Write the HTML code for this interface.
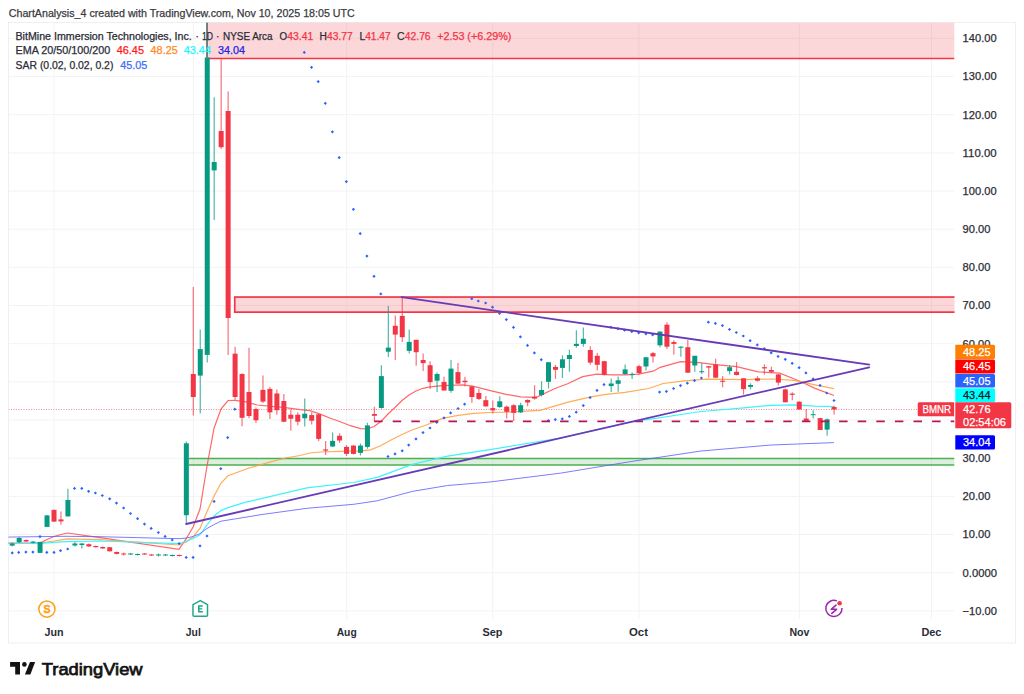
<!DOCTYPE html>
<html><head><meta charset="utf-8"><style>
html,body{margin:0;padding:0;background:#fff;width:1024px;height:694px;overflow:hidden}
svg{position:absolute;left:0;top:0;font-family:"Liberation Sans",sans-serif}
.ax{font-size:11px;fill:#2a2d36;stroke:#2a2d36;stroke-width:0.25px}
.lg{font-size:10px;fill:#2a2d36;stroke:#2a2d36;stroke-width:0.25px}
.hd{font-size:10.7px;fill:#3a3b40;stroke:#3a3b40;stroke-width:0.25px}
.tm{font-size:10.5px;font-weight:bold;fill:#2a2d36}
</style></head><body>
<svg width="1024" height="694" viewBox="0 0 1024 694">
<rect x="8.5" y="22.5" width="1007" height="620.5" fill="#fff" stroke="#efefef" stroke-width="1"/>
<defs><clipPath id="pane"><rect x="8.5" y="22.5" width="946" height="596.5"/></clipPath></defs>
<g clip-path="url(#pane)">
<line x1="8.5" y1="610.86" x2="954.5" y2="610.86" stroke="#f3f3f3" stroke-width="1"/>
<line x1="8.5" y1="572.70" x2="954.5" y2="572.70" stroke="#f3f3f3" stroke-width="1"/>
<line x1="8.5" y1="534.54" x2="954.5" y2="534.54" stroke="#f3f3f3" stroke-width="1"/>
<line x1="8.5" y1="496.37" x2="954.5" y2="496.37" stroke="#f3f3f3" stroke-width="1"/>
<line x1="8.5" y1="458.21" x2="954.5" y2="458.21" stroke="#f3f3f3" stroke-width="1"/>
<line x1="8.5" y1="420.04" x2="954.5" y2="420.04" stroke="#f3f3f3" stroke-width="1"/>
<line x1="8.5" y1="381.88" x2="954.5" y2="381.88" stroke="#f3f3f3" stroke-width="1"/>
<line x1="8.5" y1="343.72" x2="954.5" y2="343.72" stroke="#f3f3f3" stroke-width="1"/>
<line x1="8.5" y1="305.55" x2="954.5" y2="305.55" stroke="#f3f3f3" stroke-width="1"/>
<line x1="8.5" y1="267.39" x2="954.5" y2="267.39" stroke="#f3f3f3" stroke-width="1"/>
<line x1="8.5" y1="229.22" x2="954.5" y2="229.22" stroke="#f3f3f3" stroke-width="1"/>
<line x1="8.5" y1="191.06" x2="954.5" y2="191.06" stroke="#f3f3f3" stroke-width="1"/>
<line x1="8.5" y1="152.90" x2="954.5" y2="152.90" stroke="#f3f3f3" stroke-width="1"/>
<line x1="8.5" y1="114.73" x2="954.5" y2="114.73" stroke="#f3f3f3" stroke-width="1"/>
<line x1="8.5" y1="76.57" x2="954.5" y2="76.57" stroke="#f3f3f3" stroke-width="1"/>
<line x1="8.5" y1="38.40" x2="954.5" y2="38.40" stroke="#f3f3f3" stroke-width="1"/>
<line x1="54.0" y1="22.5" x2="54.0" y2="619" stroke="#f3f3f3" stroke-width="1"/>
<line x1="193.3" y1="22.5" x2="193.3" y2="619" stroke="#f3f3f3" stroke-width="1"/>
<line x1="346.7" y1="22.5" x2="346.7" y2="619" stroke="#f3f3f3" stroke-width="1"/>
<line x1="492.7" y1="22.5" x2="492.7" y2="619" stroke="#f3f3f3" stroke-width="1"/>
<line x1="638.9" y1="22.5" x2="638.9" y2="619" stroke="#f3f3f3" stroke-width="1"/>
<line x1="799.4" y1="22.5" x2="799.4" y2="619" stroke="#f3f3f3" stroke-width="1"/>
<line x1="931.5" y1="22.5" x2="931.5" y2="619" stroke="#f3f3f3" stroke-width="1"/>
<rect x="208" y="22.5" width="746.5" height="36.1" fill="rgba(242,54,69,0.2)"/>
<line x1="208" y1="58.6" x2="954.5" y2="58.6" stroke="#F23645" stroke-width="1.5"/>
<rect x="234.75" y="297.05" width="730" height="15.1" fill="rgba(242,54,69,0.2)" stroke="#F23645" stroke-width="1.7"/>
<rect x="188.8" y="458.6" width="766" height="6.3" fill="rgba(76,175,80,0.2)"/>
<line x1="188.8" y1="458.6" x2="954.5" y2="458.6" stroke="#4CAF50" stroke-width="1.5"/>
<line x1="188.8" y1="464.9" x2="954.5" y2="464.9" stroke="#4CAF50" stroke-width="1.5"/>
<line x1="8.5" y1="409.5" x2="954.5" y2="409.5" stroke="#F23645" stroke-opacity="0.6" stroke-width="1" stroke-dasharray="1,1.5"/>
<polyline points="8.0,543.1 40.1,543.1 47.0,539.5 54.0,536.5 61.0,534.5 67.7,533.0 100.0,537.7 179.0,549.4 186.2,538.7 193.1,527.0 200.0,509.0 207.0,466.0 214.1,428.0 221.0,409.0 228.0,400.5 235.0,400.3 245.0,401.6 257.0,405.0 285.3,407.6 300.0,409.6 310.0,410.6 320.2,414.1 330.3,418.2 340.3,421.7 350.4,425.7 360.5,428.7 367.0,428.8 374.0,426.5 381.0,421.5 388.0,414.0 395.0,407.5 402.0,400.5 409.0,395.0 416.0,391.0 423.0,388.3 430.0,386.8 442.5,385.6 462.8,384.8 473.8,386.4 489.4,390.3 505.0,394.2 520.6,396.9 536.3,397.3 553.8,389.0 568.2,383.5 582.6,376.6 597.0,374.1 611.5,374.8 625.0,374.8 638.7,374.1 653.1,371.2 660.3,367.3 680.5,361.6 699.3,362.6 715.0,364.6 736.6,366.7 758.2,371.8 779.8,373.2 794.3,379.0 804.3,383.3 815.0,388.4 834.0,395.5" fill="none" stroke="#ff4d4d" stroke-opacity="0.85" stroke-width="1.2"/>
<polyline points="8.0,543.5 40.0,543.3 47.0,542.0 54.0,541.0 61.0,539.8 67.7,538.9 100.0,539.7 179.0,545.0 186.2,542.0 193.1,536.8 200.0,528.4 207.0,511.5 214.1,496.0 221.0,483.0 228.0,475.8 249.1,468.0 269.9,462.2 285.3,458.0 300.0,455.5 310.0,453.0 320.2,452.0 340.3,451.4 360.5,450.9 370.6,449.9 380.0,446.0 391.0,440.0 402.0,434.5 411.3,430.2 426.9,424.7 442.5,418.4 458.1,415.3 473.8,413.4 489.4,412.5 505.0,412.2 520.6,411.4 540.0,410.3 568.2,402.2 589.8,397.2 604.2,394.7 625.0,392.4 648.8,388.5 663.2,383.5 684.8,380.9 706.5,379.2 743.8,379.7 772.6,379.0 794.3,380.4 815.0,384.8 834.0,388.6" fill="none" stroke="#ffa345" stroke-opacity="0.9" stroke-width="1.2"/>
<polyline points="8.0,543.5 40.0,543.3 65.0,541.7 100.0,541.0 179.0,543.7 186.2,541.3 193.1,538.5 200.0,534.9 207.0,525.0 214.1,516.0 221.0,510.6 228.0,507.6 245.0,502.4 260.0,498.9 306.9,487.9 353.7,482.5 377.2,477.3 412.3,464.4 447.5,456.2 490.0,449.6 560.3,438.0 630.6,422.2 701.0,411.5 743.8,407.8 771.3,405.3 794.3,404.9 815.0,406.1 834.0,406.6" fill="none" stroke="#3df3ff" stroke-width="1.2"/>
<polyline points="8.0,537.1 65.0,536.3 100.0,536.7 179.0,538.7 186.2,538.1 193.1,536.5 200.0,533.6 207.0,528.5 214.1,524.5 221.0,521.2 245.0,517.3 260.0,514.8 306.9,508.3 353.7,504.3 377.2,500.8 412.3,491.4 447.5,485.5 490.0,482.0 560.3,473.2 630.6,461.6 701.0,451.0 771.3,445.0 834.0,442.6" fill="none" stroke="#5b5bff" stroke-opacity="0.8" stroke-width="1"/>
<line x1="12.21" y1="542.5" x2="12.21" y2="546.5" stroke="#089981" stroke-opacity="0.7" stroke-width="1.2"/>
<rect x="9.71" y="543.5" width="5" height="2.10" fill="#089981"/>
<line x1="19.17" y1="537" x2="19.17" y2="543" stroke="#089981" stroke-opacity="0.7" stroke-width="1.2"/>
<rect x="16.67" y="538" width="5" height="4.30" fill="#089981"/>
<line x1="26.14" y1="539.5" x2="26.14" y2="542" stroke="#F23645" stroke-opacity="0.7" stroke-width="1.2"/>
<rect x="23.64" y="540" width="5" height="1.50" fill="#F23645"/>
<line x1="33.11" y1="541" x2="33.11" y2="543.5" stroke="#089981" stroke-opacity="0.7" stroke-width="1.2"/>
<rect x="30.61" y="541.6" width="5" height="1.20" fill="#089981"/>
<line x1="40.07" y1="541.5" x2="40.07" y2="553" stroke="#089981" stroke-opacity="0.7" stroke-width="1.2"/>
<rect x="37.57" y="542" width="5" height="10.90" fill="#089981"/>
<line x1="47.03" y1="515" x2="47.03" y2="527" stroke="#089981" stroke-opacity="0.7" stroke-width="1.2"/>
<rect x="44.53" y="515.4" width="5" height="11.50" fill="#089981"/>
<line x1="54.00" y1="509.5" x2="54.00" y2="522" stroke="#F23645" stroke-opacity="0.7" stroke-width="1.2"/>
<rect x="51.50" y="509.9" width="5" height="11.70" fill="#F23645"/>
<line x1="60.97" y1="511.5" x2="60.97" y2="524.8" stroke="#F23645" stroke-opacity="0.7" stroke-width="1.2"/>
<rect x="58.47" y="519.4" width="5" height="2.00" fill="#F23645"/>
<line x1="67.93" y1="488.7" x2="67.93" y2="516.4" stroke="#089981" stroke-opacity="0.7" stroke-width="1.2"/>
<rect x="65.43" y="500" width="5" height="16.40" fill="#089981"/>
<line x1="74.89" y1="542" x2="74.89" y2="546.5" stroke="#089981" stroke-opacity="0.7" stroke-width="1.2"/>
<rect x="72.39" y="543.5" width="5" height="2.00" fill="#089981"/>
<line x1="81.86" y1="543" x2="81.86" y2="548.5" stroke="#089981" stroke-opacity="0.7" stroke-width="1.2"/>
<rect x="79.36" y="543.5" width="5" height="1.50" fill="#089981"/>
<line x1="88.83" y1="543.5" x2="88.83" y2="547" stroke="#F23645" stroke-opacity="0.7" stroke-width="1.2"/>
<rect x="86.33" y="544.2" width="5" height="2.20" fill="#F23645"/>
<line x1="95.79" y1="545.5" x2="95.79" y2="547.5" stroke="#F23645" stroke-opacity="0.7" stroke-width="1.2"/>
<rect x="93.29" y="546" width="5" height="1.20" fill="#F23645"/>
<line x1="102.75" y1="546.5" x2="102.75" y2="549" stroke="#F23645" stroke-opacity="0.7" stroke-width="1.2"/>
<rect x="100.25" y="547" width="5" height="1.40" fill="#F23645"/>
<line x1="109.72" y1="547" x2="109.72" y2="551.5" stroke="#F23645" stroke-opacity="0.7" stroke-width="1.2"/>
<rect x="107.22" y="547.2" width="5" height="4.10" fill="#F23645"/>
<line x1="116.69" y1="551.5" x2="116.69" y2="554.5" stroke="#F23645" stroke-opacity="0.7" stroke-width="1.2"/>
<rect x="114.19" y="552" width="5" height="1.90" fill="#F23645"/>
<line x1="123.65" y1="552.5" x2="123.65" y2="555.5" stroke="#F23645" stroke-opacity="0.7" stroke-width="1.2"/>
<rect x="121.15" y="553.5" width="5" height="1.00" fill="#F23645"/>
<line x1="130.62" y1="553" x2="130.62" y2="555" stroke="#089981" stroke-opacity="0.7" stroke-width="1.2"/>
<rect x="128.12" y="553.5" width="5" height="1.00" fill="#089981"/>
<line x1="137.58" y1="553.5" x2="137.58" y2="555.5" stroke="#089981" stroke-opacity="0.7" stroke-width="1.2"/>
<rect x="135.08" y="554" width="5" height="1.00" fill="#089981"/>
<line x1="144.55" y1="553" x2="144.55" y2="555" stroke="#F23645" stroke-opacity="0.7" stroke-width="1.2"/>
<rect x="142.05" y="553.5" width="5" height="1.00" fill="#F23645"/>
<line x1="151.51" y1="554" x2="151.51" y2="556" stroke="#F23645" stroke-opacity="0.7" stroke-width="1.2"/>
<rect x="149.01" y="554.5" width="5" height="1.00" fill="#F23645"/>
<line x1="158.47" y1="553.5" x2="158.47" y2="556.5" stroke="#089981" stroke-opacity="0.7" stroke-width="1.2"/>
<rect x="155.97" y="554.5" width="5" height="1.00" fill="#089981"/>
<line x1="165.44" y1="554" x2="165.44" y2="556" stroke="#089981" stroke-opacity="0.7" stroke-width="1.2"/>
<rect x="162.94" y="554.5" width="5" height="1.00" fill="#089981"/>
<line x1="172.41" y1="554.5" x2="172.41" y2="556.5" stroke="#089981" stroke-opacity="0.7" stroke-width="1.2"/>
<rect x="169.91" y="555" width="5" height="1.00" fill="#089981"/>
<line x1="179.37" y1="554.5" x2="179.37" y2="556.5" stroke="#F23645" stroke-opacity="0.7" stroke-width="1.2"/>
<rect x="176.87" y="555" width="5" height="1.00" fill="#F23645"/>
<line x1="186.34" y1="441.5" x2="186.34" y2="524.4" stroke="#089981" stroke-opacity="0.7" stroke-width="1.2"/>
<rect x="183.84" y="443.3" width="5" height="71.90" fill="#089981"/>
<line x1="193.30" y1="286.9" x2="193.30" y2="415.5" stroke="#F23645" stroke-opacity="0.7" stroke-width="1.2"/>
<rect x="190.80" y="374" width="5" height="23.00" fill="#F23645"/>
<line x1="200.26" y1="329.5" x2="200.26" y2="413.6" stroke="#089981" stroke-opacity="0.7" stroke-width="1.2"/>
<rect x="197.76" y="349.1" width="5" height="26.50" fill="#089981"/>
<line x1="207.23" y1="22.5" x2="207.23" y2="362.5" stroke="#089981" stroke-opacity="0.7" stroke-width="1.2"/>
<rect x="204.73" y="57.5" width="5" height="297.40" fill="#089981"/>
<line x1="214.19" y1="97.2" x2="214.19" y2="219.9" stroke="#089981" stroke-opacity="0.7" stroke-width="1.2"/>
<rect x="211.69" y="162" width="5" height="8.40" fill="#089981"/>
<line x1="221.16" y1="59.2" x2="221.16" y2="149" stroke="#F23645" stroke-opacity="0.7" stroke-width="1.2"/>
<rect x="218.66" y="131" width="5" height="16.20" fill="#F23645"/>
<line x1="228.12" y1="91.4" x2="228.12" y2="354.9" stroke="#F23645" stroke-opacity="0.7" stroke-width="1.2"/>
<rect x="225.62" y="111" width="5" height="207.00" fill="#F23645"/>
<line x1="235.09" y1="346.8" x2="235.09" y2="399.8" stroke="#F23645" stroke-opacity="0.7" stroke-width="1.2"/>
<rect x="232.59" y="353.7" width="5" height="43.30" fill="#F23645"/>
<line x1="242.06" y1="373.3" x2="242.06" y2="426.3" stroke="#F23645" stroke-opacity="0.7" stroke-width="1.2"/>
<rect x="239.56" y="374" width="5" height="43.80" fill="#F23645"/>
<line x1="249.02" y1="347.7" x2="249.02" y2="418.3" stroke="#F23645" stroke-opacity="0.7" stroke-width="1.2"/>
<rect x="246.52" y="392" width="5" height="24.00" fill="#F23645"/>
<line x1="255.98" y1="407.6" x2="255.98" y2="423.1" stroke="#F23645" stroke-opacity="0.7" stroke-width="1.2"/>
<rect x="253.48" y="409" width="5" height="11.30" fill="#F23645"/>
<line x1="262.95" y1="375.4" x2="262.95" y2="403" stroke="#F23645" stroke-opacity="0.7" stroke-width="1.2"/>
<rect x="260.45" y="389.9" width="5" height="11.70" fill="#F23645"/>
<line x1="269.91" y1="387" x2="269.91" y2="419.1" stroke="#F23645" stroke-opacity="0.7" stroke-width="1.2"/>
<rect x="267.41" y="388.9" width="5" height="23.40" fill="#F23645"/>
<line x1="276.88" y1="389.5" x2="276.88" y2="414.7" stroke="#F23645" stroke-opacity="0.7" stroke-width="1.2"/>
<rect x="274.38" y="393.5" width="5" height="16.70" fill="#F23645"/>
<line x1="283.85" y1="394.1" x2="283.85" y2="422.3" stroke="#F23645" stroke-opacity="0.7" stroke-width="1.2"/>
<rect x="281.35" y="401" width="5" height="20.70" fill="#F23645"/>
<line x1="290.81" y1="409.6" x2="290.81" y2="430.8" stroke="#F23645" stroke-opacity="0.7" stroke-width="1.2"/>
<rect x="288.31" y="414.7" width="5" height="4.00" fill="#F23645"/>
<line x1="297.77" y1="412.3" x2="297.77" y2="425.2" stroke="#F23645" stroke-opacity="0.7" stroke-width="1.2"/>
<rect x="295.27" y="414.7" width="5" height="7.00" fill="#F23645"/>
<line x1="304.74" y1="398.5" x2="304.74" y2="426.4" stroke="#089981" stroke-opacity="0.7" stroke-width="1.2"/>
<rect x="302.24" y="413.7" width="5" height="4.60" fill="#089981"/>
<line x1="311.70" y1="412.3" x2="311.70" y2="424.4" stroke="#F23645" stroke-opacity="0.7" stroke-width="1.2"/>
<rect x="309.20" y="415.1" width="5" height="5.60" fill="#F23645"/>
<line x1="318.67" y1="414" x2="318.67" y2="440.9" stroke="#F23645" stroke-opacity="0.7" stroke-width="1.2"/>
<rect x="316.17" y="414.3" width="5" height="24.60" fill="#F23645"/>
<line x1="325.63" y1="440.9" x2="325.63" y2="455" stroke="#F23645" stroke-opacity="0.7" stroke-width="1.2"/>
<rect x="323.13" y="449.4" width="5" height="1.20" fill="#F23645"/>
<line x1="332.60" y1="432.4" x2="332.60" y2="446.9" stroke="#089981" stroke-opacity="0.7" stroke-width="1.2"/>
<rect x="330.10" y="440.9" width="5" height="5.60" fill="#089981"/>
<line x1="339.56" y1="433.2" x2="339.56" y2="442.9" stroke="#F23645" stroke-opacity="0.7" stroke-width="1.2"/>
<rect x="337.06" y="435.8" width="5" height="4.70" fill="#F23645"/>
<line x1="346.53" y1="445" x2="346.53" y2="456" stroke="#F23645" stroke-opacity="0.7" stroke-width="1.2"/>
<rect x="344.03" y="446.9" width="5" height="7.00" fill="#F23645"/>
<line x1="353.50" y1="445" x2="353.50" y2="454.5" stroke="#F23645" stroke-opacity="0.7" stroke-width="1.2"/>
<rect x="351.00" y="445.6" width="5" height="8.30" fill="#F23645"/>
<line x1="360.46" y1="443.5" x2="360.46" y2="455.5" stroke="#089981" stroke-opacity="0.7" stroke-width="1.2"/>
<rect x="357.96" y="445.6" width="5" height="7.30" fill="#089981"/>
<line x1="367.43" y1="422.8" x2="367.43" y2="448.7" stroke="#089981" stroke-opacity="0.7" stroke-width="1.2"/>
<rect x="364.93" y="425.4" width="5" height="21.50" fill="#089981"/>
<line x1="374.39" y1="406.7" x2="374.39" y2="421" stroke="#F23645" stroke-opacity="0.7" stroke-width="1.2"/>
<rect x="371.89" y="414" width="5" height="1.80" fill="#F23645"/>
<line x1="381.36" y1="365.2" x2="381.36" y2="408.8" stroke="#089981" stroke-opacity="0.7" stroke-width="1.2"/>
<rect x="378.86" y="376.1" width="5" height="31.90" fill="#089981"/>
<line x1="388.32" y1="306.1" x2="388.32" y2="356.9" stroke="#089981" stroke-opacity="0.7" stroke-width="1.2"/>
<rect x="385.82" y="347.6" width="5" height="4.10" fill="#089981"/>
<line x1="395.28" y1="315.4" x2="395.28" y2="360" stroke="#F23645" stroke-opacity="0.7" stroke-width="1.2"/>
<rect x="392.78" y="325.8" width="5" height="8.80" fill="#F23645"/>
<line x1="402.25" y1="297.3" x2="402.25" y2="341.9" stroke="#F23645" stroke-opacity="0.7" stroke-width="1.2"/>
<rect x="399.75" y="315.9" width="5" height="21.30" fill="#F23645"/>
<line x1="409.21" y1="329.4" x2="409.21" y2="353.5" stroke="#089981" stroke-opacity="0.7" stroke-width="1.2"/>
<rect x="406.71" y="341.9" width="5" height="9.00" fill="#089981"/>
<line x1="416.18" y1="339.8" x2="416.18" y2="365.7" stroke="#F23645" stroke-opacity="0.7" stroke-width="1.2"/>
<rect x="413.68" y="339.8" width="5" height="12.40" fill="#F23645"/>
<line x1="423.14" y1="353.5" x2="423.14" y2="370.9" stroke="#F23645" stroke-opacity="0.7" stroke-width="1.2"/>
<rect x="420.64" y="360" width="5" height="3.10" fill="#F23645"/>
<line x1="430.11" y1="361.3" x2="430.11" y2="389" stroke="#F23645" stroke-opacity="0.7" stroke-width="1.2"/>
<rect x="427.61" y="365.2" width="5" height="16.90" fill="#F23645"/>
<line x1="437.07" y1="372.5" x2="437.07" y2="392" stroke="#089981" stroke-opacity="0.7" stroke-width="1.2"/>
<rect x="434.57" y="374" width="5" height="6.70" fill="#089981"/>
<line x1="444.04" y1="376.8" x2="444.04" y2="390.5" stroke="#F23645" stroke-opacity="0.7" stroke-width="1.2"/>
<rect x="441.54" y="381.9" width="5" height="8.60" fill="#F23645"/>
<line x1="451.00" y1="360" x2="451.00" y2="392.7" stroke="#089981" stroke-opacity="0.7" stroke-width="1.2"/>
<rect x="448.50" y="368.6" width="5" height="22.20" fill="#089981"/>
<line x1="457.97" y1="363.1" x2="457.97" y2="384" stroke="#F23645" stroke-opacity="0.7" stroke-width="1.2"/>
<rect x="455.47" y="372.1" width="5" height="11.50" fill="#F23645"/>
<line x1="464.94" y1="376.8" x2="464.94" y2="386.5" stroke="#F23645" stroke-opacity="0.7" stroke-width="1.2"/>
<rect x="462.44" y="380.7" width="5" height="1.50" fill="#F23645"/>
<line x1="471.90" y1="385.5" x2="471.90" y2="402.8" stroke="#F23645" stroke-opacity="0.7" stroke-width="1.2"/>
<rect x="469.40" y="386.5" width="5" height="10.50" fill="#F23645"/>
<line x1="478.87" y1="389" x2="478.87" y2="399.9" stroke="#F23645" stroke-opacity="0.7" stroke-width="1.2"/>
<rect x="476.37" y="393" width="5" height="5.90" fill="#F23645"/>
<line x1="485.83" y1="396" x2="485.83" y2="406.4" stroke="#F23645" stroke-opacity="0.7" stroke-width="1.2"/>
<rect x="483.33" y="400.2" width="5" height="6.20" fill="#F23645"/>
<line x1="492.80" y1="400.6" x2="492.80" y2="413.6" stroke="#F23645" stroke-opacity="0.7" stroke-width="1.2"/>
<rect x="490.30" y="408.1" width="5" height="2.30" fill="#F23645"/>
<line x1="499.76" y1="396.3" x2="499.76" y2="407.8" stroke="#089981" stroke-opacity="0.7" stroke-width="1.2"/>
<rect x="497.26" y="401.3" width="5" height="5.80" fill="#089981"/>
<line x1="506.72" y1="405.6" x2="506.72" y2="418.6" stroke="#F23645" stroke-opacity="0.7" stroke-width="1.2"/>
<rect x="504.22" y="406.7" width="5" height="5.10" fill="#F23645"/>
<line x1="513.69" y1="404.2" x2="513.69" y2="421.1" stroke="#F23645" stroke-opacity="0.7" stroke-width="1.2"/>
<rect x="511.19" y="405.2" width="5" height="7.70" fill="#F23645"/>
<line x1="520.65" y1="402.8" x2="520.65" y2="412.9" stroke="#089981" stroke-opacity="0.7" stroke-width="1.2"/>
<rect x="518.15" y="405.2" width="5" height="7.20" fill="#089981"/>
<line x1="527.62" y1="399.2" x2="527.62" y2="406.3" stroke="#F23645" stroke-opacity="0.7" stroke-width="1.2"/>
<rect x="525.12" y="400" width="5" height="2.50" fill="#F23645"/>
<line x1="534.59" y1="385.2" x2="534.59" y2="399.6" stroke="#F23645" stroke-opacity="0.7" stroke-width="1.2"/>
<rect x="532.09" y="396.7" width="5" height="1.90" fill="#F23645"/>
<line x1="541.55" y1="381.3" x2="541.55" y2="396.5" stroke="#089981" stroke-opacity="0.7" stroke-width="1.2"/>
<rect x="539.05" y="390" width="5" height="5.00" fill="#089981"/>
<line x1="548.51" y1="362.2" x2="548.51" y2="388.5" stroke="#089981" stroke-opacity="0.7" stroke-width="1.2"/>
<rect x="546.01" y="362.2" width="5" height="19.60" fill="#089981"/>
<line x1="555.48" y1="364.8" x2="555.48" y2="378.9" stroke="#F23645" stroke-opacity="0.7" stroke-width="1.2"/>
<rect x="552.98" y="366.9" width="5" height="2.90" fill="#F23645"/>
<line x1="562.44" y1="355.4" x2="562.44" y2="378" stroke="#089981" stroke-opacity="0.7" stroke-width="1.2"/>
<rect x="559.94" y="359.3" width="5" height="8.60" fill="#089981"/>
<line x1="569.41" y1="349.6" x2="569.41" y2="371.7" stroke="#089981" stroke-opacity="0.7" stroke-width="1.2"/>
<rect x="566.91" y="355" width="5" height="4.00" fill="#089981"/>
<line x1="576.38" y1="330.2" x2="576.38" y2="347.8" stroke="#089981" stroke-opacity="0.7" stroke-width="1.2"/>
<rect x="573.88" y="343.9" width="5" height="2.10" fill="#089981"/>
<line x1="583.34" y1="327.6" x2="583.34" y2="346.7" stroke="#089981" stroke-opacity="0.7" stroke-width="1.2"/>
<rect x="580.84" y="338.8" width="5" height="5.10" fill="#089981"/>
<line x1="590.30" y1="346.3" x2="590.30" y2="364.8" stroke="#F23645" stroke-opacity="0.7" stroke-width="1.2"/>
<rect x="587.80" y="350" width="5" height="12.60" fill="#F23645"/>
<line x1="597.27" y1="352.9" x2="597.27" y2="370.5" stroke="#F23645" stroke-opacity="0.7" stroke-width="1.2"/>
<rect x="594.77" y="355.8" width="5" height="9.00" fill="#F23645"/>
<line x1="604.24" y1="360.7" x2="604.24" y2="375.6" stroke="#F23645" stroke-opacity="0.7" stroke-width="1.2"/>
<rect x="601.74" y="361.2" width="5" height="13.60" fill="#F23645"/>
<line x1="611.20" y1="378.4" x2="611.20" y2="392.1" stroke="#089981" stroke-opacity="0.7" stroke-width="1.2"/>
<rect x="608.70" y="383.5" width="5" height="2.60" fill="#089981"/>
<line x1="618.16" y1="376.6" x2="618.16" y2="391.8" stroke="#089981" stroke-opacity="0.7" stroke-width="1.2"/>
<rect x="615.66" y="380.3" width="5" height="3.50" fill="#089981"/>
<line x1="625.13" y1="364.5" x2="625.13" y2="374.8" stroke="#089981" stroke-opacity="0.7" stroke-width="1.2"/>
<rect x="622.63" y="369.4" width="5" height="4.70" fill="#089981"/>
<line x1="632.10" y1="372.2" x2="632.10" y2="378.9" stroke="#089981" stroke-opacity="0.7" stroke-width="1.2"/>
<rect x="629.60" y="374.1" width="5" height="1.00" fill="#089981"/>
<line x1="639.06" y1="364.8" x2="639.06" y2="374.6" stroke="#F23645" stroke-opacity="0.7" stroke-width="1.2"/>
<rect x="636.56" y="366.2" width="5" height="6.90" fill="#F23645"/>
<line x1="646.02" y1="356.8" x2="646.02" y2="370.5" stroke="#089981" stroke-opacity="0.7" stroke-width="1.2"/>
<rect x="643.52" y="357.3" width="5" height="9.20" fill="#089981"/>
<line x1="652.99" y1="352.1" x2="652.99" y2="362.6" stroke="#F23645" stroke-opacity="0.7" stroke-width="1.2"/>
<rect x="650.49" y="353.2" width="5" height="3.20" fill="#F23645"/>
<line x1="659.96" y1="331.3" x2="659.96" y2="347.2" stroke="#089981" stroke-opacity="0.7" stroke-width="1.2"/>
<rect x="657.46" y="331.6" width="5" height="13.70" fill="#089981"/>
<line x1="666.92" y1="322.2" x2="666.92" y2="348.9" stroke="#F23645" stroke-opacity="0.7" stroke-width="1.2"/>
<rect x="664.42" y="324.7" width="5" height="22.00" fill="#F23645"/>
<line x1="673.88" y1="340.3" x2="673.88" y2="354.7" stroke="#F23645" stroke-opacity="0.7" stroke-width="1.2"/>
<rect x="671.38" y="342" width="5" height="1.90" fill="#F23645"/>
<line x1="680.85" y1="346.3" x2="680.85" y2="356.8" stroke="#089981" stroke-opacity="0.7" stroke-width="1.2"/>
<rect x="678.35" y="346.7" width="5" height="1.10" fill="#089981"/>
<line x1="687.81" y1="340" x2="687.81" y2="372.7" stroke="#F23645" stroke-opacity="0.7" stroke-width="1.2"/>
<rect x="685.31" y="347.2" width="5" height="25.50" fill="#F23645"/>
<line x1="694.78" y1="355.8" x2="694.78" y2="371.7" stroke="#089981" stroke-opacity="0.7" stroke-width="1.2"/>
<rect x="692.28" y="355.8" width="5" height="9.70" fill="#089981"/>
<line x1="701.75" y1="363.3" x2="701.75" y2="374.1" stroke="#089981" stroke-opacity="0.7" stroke-width="1.2"/>
<rect x="699.25" y="371.2" width="5" height="1.00" fill="#089981"/>
<line x1="708.71" y1="365.9" x2="708.71" y2="377.7" stroke="#F23645" stroke-opacity="0.7" stroke-width="1.2"/>
<rect x="706.21" y="366.2" width="5" height="1.40" fill="#F23645"/>
<line x1="715.67" y1="358.7" x2="715.67" y2="377.7" stroke="#F23645" stroke-opacity="0.7" stroke-width="1.2"/>
<rect x="713.17" y="364.5" width="5" height="13.20" fill="#F23645"/>
<line x1="722.64" y1="376.1" x2="722.64" y2="387.3" stroke="#F23645" stroke-opacity="0.7" stroke-width="1.2"/>
<rect x="720.14" y="380.7" width="5" height="1.10" fill="#F23645"/>
<line x1="729.61" y1="365.3" x2="729.61" y2="374.4" stroke="#089981" stroke-opacity="0.7" stroke-width="1.2"/>
<rect x="727.11" y="367.2" width="5" height="3.90" fill="#089981"/>
<line x1="736.57" y1="362" x2="736.57" y2="375.4" stroke="#F23645" stroke-opacity="0.7" stroke-width="1.2"/>
<rect x="734.07" y="371.8" width="5" height="3.20" fill="#F23645"/>
<line x1="743.53" y1="378.3" x2="743.53" y2="394.6" stroke="#F23645" stroke-opacity="0.7" stroke-width="1.2"/>
<rect x="741.03" y="378.3" width="5" height="10.80" fill="#F23645"/>
<line x1="750.50" y1="383.3" x2="750.50" y2="389.4" stroke="#089981" stroke-opacity="0.7" stroke-width="1.2"/>
<rect x="748.00" y="385" width="5" height="1.90" fill="#089981"/>
<line x1="757.47" y1="376.1" x2="757.47" y2="381.6" stroke="#F23645" stroke-opacity="0.7" stroke-width="1.2"/>
<rect x="754.97" y="378.3" width="5" height="2.40" fill="#F23645"/>
<line x1="764.43" y1="364.3" x2="764.43" y2="374.4" stroke="#F23645" stroke-opacity="0.7" stroke-width="1.2"/>
<rect x="761.93" y="367.2" width="5" height="1.20" fill="#F23645"/>
<line x1="771.39" y1="366.7" x2="771.39" y2="372.9" stroke="#F23645" stroke-opacity="0.7" stroke-width="1.2"/>
<rect x="768.89" y="370" width="5" height="1.80" fill="#F23645"/>
<line x1="778.36" y1="374" x2="778.36" y2="385.5" stroke="#F23645" stroke-opacity="0.7" stroke-width="1.2"/>
<rect x="775.86" y="374.4" width="5" height="8.20" fill="#F23645"/>
<line x1="785.32" y1="388.4" x2="785.32" y2="402.3" stroke="#F23645" stroke-opacity="0.7" stroke-width="1.2"/>
<rect x="782.82" y="389.4" width="5" height="12.90" fill="#F23645"/>
<line x1="792.29" y1="392.3" x2="792.29" y2="400.2" stroke="#F23645" stroke-opacity="0.7" stroke-width="1.2"/>
<rect x="789.79" y="393.6" width="5" height="1.20" fill="#F23645"/>
<line x1="799.25" y1="401.3" x2="799.25" y2="409.5" stroke="#F23645" stroke-opacity="0.7" stroke-width="1.2"/>
<rect x="796.75" y="401.7" width="5" height="7.80" fill="#F23645"/>
<line x1="806.22" y1="408.9" x2="806.22" y2="422" stroke="#F23645" stroke-opacity="0.7" stroke-width="1.2"/>
<rect x="803.72" y="418.5" width="5" height="2.90" fill="#F23645"/>
<line x1="813.18" y1="410.3" x2="813.18" y2="418.5" stroke="#089981" stroke-opacity="0.7" stroke-width="1.2"/>
<rect x="810.68" y="414.2" width="5" height="1.00" fill="#089981"/>
<line x1="820.15" y1="417.8" x2="820.15" y2="430" stroke="#F23645" stroke-opacity="0.7" stroke-width="1.2"/>
<rect x="817.65" y="418.1" width="5" height="11.90" fill="#F23645"/>
<line x1="827.12" y1="418.5" x2="827.12" y2="435.8" stroke="#089981" stroke-opacity="0.7" stroke-width="1.2"/>
<rect x="824.62" y="419.3" width="5" height="10.30" fill="#089981"/>
<line x1="834.08" y1="405.6" x2="834.08" y2="414.4" stroke="#F23645" stroke-opacity="0.7" stroke-width="1.2"/>
<rect x="831.58" y="407" width="5" height="2.50" fill="#F23645"/>
<line x1="207" y1="22.5" x2="207" y2="57.5" stroke="#70786f" stroke-width="1.8"/>
<path d="M10.6,552.9L12.2,551.3L13.8,552.9L12.2,554.5Z" fill="#2962FF"/>
<path d="M17.1,552.4L18.7,550.8L20.3,552.4L18.7,554.0Z" fill="#2962FF"/>
<path d="M24.3,552.1L25.9,550.5L27.5,552.1L25.9,553.7Z" fill="#2962FF"/>
<path d="M31.3,552.1L32.9,550.5L34.5,552.1L32.9,553.7Z" fill="#2962FF"/>
<path d="M38.4,536.6L40.0,535.0L41.6,536.6L40.0,538.2Z" fill="#2962FF"/>
<path d="M45.2,552.4L46.8,550.8L48.4,552.4L46.8,554.0Z" fill="#2962FF"/>
<path d="M52.4,552.4L54.0,550.8L55.6,552.4L54.0,554.0Z" fill="#2962FF"/>
<path d="M58.9,550.7L60.5,549.1L62.1,550.7L60.5,552.3Z" fill="#2962FF"/>
<path d="M66.1,549.0L67.7,547.4L69.3,549.0L67.7,550.6Z" fill="#2962FF"/>
<path d="M72.9,488.4L74.5,486.8L76.1,488.4L74.5,490.0Z" fill="#2962FF"/>
<path d="M80.2,488.4L81.8,486.8L83.4,488.4L81.8,490.0Z" fill="#2962FF"/>
<path d="M87.0,491.3L88.6,489.7L90.2,491.3L88.6,492.9Z" fill="#2962FF"/>
<path d="M93.8,493.0L95.4,491.4L97.0,493.0L95.4,494.6Z" fill="#2962FF"/>
<path d="M100.7,495.5L102.3,493.9L103.9,495.5L102.3,497.1Z" fill="#2962FF"/>
<path d="M108.1,498.8L109.7,497.2L111.3,498.8L109.7,500.4Z" fill="#2962FF"/>
<path d="M114.9,503.1L116.5,501.5L118.1,503.1L116.5,504.7Z" fill="#2962FF"/>
<path d="M122.0,508.0L123.6,506.4L125.2,508.0L123.6,509.6Z" fill="#2962FF"/>
<path d="M128.9,513.5L130.5,511.9L132.1,513.5L130.5,515.1Z" fill="#2962FF"/>
<path d="M136.0,518.7L137.6,517.1L139.2,518.7L137.6,520.3Z" fill="#2962FF"/>
<path d="M142.9,524.1L144.5,522.5L146.1,524.1L144.5,525.7Z" fill="#2962FF"/>
<path d="M149.6,528.4L151.2,526.8L152.8,528.4L151.2,530.0Z" fill="#2962FF"/>
<path d="M156.8,532.5L158.4,530.9L160.0,532.5L158.4,534.1Z" fill="#2962FF"/>
<path d="M163.5,536.4L165.1,534.8L166.7,536.4L165.1,538.0Z" fill="#2962FF"/>
<path d="M170.6,540.0L172.2,538.4L173.8,540.0L172.2,541.6Z" fill="#2962FF"/>
<path d="M177.5,543.6L179.1,542.0L180.7,543.6L179.1,545.2Z" fill="#2962FF"/>
<path d="M184.6,557.4L186.2,555.8L187.8,557.4L186.2,559.0Z" fill="#2962FF"/>
<path d="M191.5,557.4L193.1,555.8L194.7,557.4L193.1,559.0Z" fill="#2962FF"/>
<path d="M198.4,545.9L200.0,544.3L201.6,545.9L200.0,547.5Z" fill="#2962FF"/>
<path d="M205.4,536.0L207.0,534.4L208.6,536.0L207.0,537.6Z" fill="#2962FF"/>
<path d="M212.5,501.4L214.1,499.8L215.7,501.4L214.1,503.0Z" fill="#2962FF"/>
<path d="M219.2,468.7L220.8,467.1L222.4,468.7L220.8,470.3Z" fill="#2962FF"/>
<path d="M226.1,437.6L227.7,436.0L229.3,437.6L227.7,439.2Z" fill="#2962FF"/>
<path d="M233.2,409.2L234.8,407.6L236.4,409.2L234.8,410.8Z" fill="#2962FF"/>
<path d="M302.7,52.4L304.3,50.8L305.9,52.4L304.3,54.0Z" fill="#2962FF"/>
<path d="M309.9,67.3L311.5,65.7L313.1,67.3L311.5,68.9Z" fill="#2962FF"/>
<path d="M316.6,81.6L318.2,80.0L319.8,81.6L318.2,83.2Z" fill="#2962FF"/>
<path d="M323.7,103.3L325.3,101.7L326.9,103.3L325.3,104.9Z" fill="#2962FF"/>
<path d="M330.8,131.8L332.4,130.2L334.0,131.8L332.4,133.4Z" fill="#2962FF"/>
<path d="M337.6,157.6L339.2,156.0L340.8,157.6L339.2,159.2Z" fill="#2962FF"/>
<path d="M344.7,181.6L346.3,180.0L347.9,181.6L346.3,183.2Z" fill="#2962FF"/>
<path d="M351.8,209.3L353.4,207.7L355.0,209.3L353.4,210.9Z" fill="#2962FF"/>
<path d="M358.6,233.6L360.2,232.0L361.8,233.6L360.2,235.2Z" fill="#2962FF"/>
<path d="M365.3,256.1L366.9,254.5L368.5,256.1L366.9,257.7Z" fill="#2962FF"/>
<path d="M372.4,276.3L374.0,274.7L375.6,276.3L374.0,277.9Z" fill="#2962FF"/>
<path d="M379.2,293.9L380.8,292.3L382.4,293.9L380.8,295.5Z" fill="#2962FF"/>
<path d="M386.4,456.5L388.0,454.9L389.6,456.5L388.0,458.1Z" fill="#2962FF"/>
<path d="M393.4,453.9L395.0,452.3L396.6,453.9L395.0,455.5Z" fill="#2962FF"/>
<path d="M400.6,450.8L402.2,449.2L403.8,450.8L402.2,452.4Z" fill="#2962FF"/>
<path d="M407.1,445.1L408.7,443.5L410.3,445.1L408.7,446.7Z" fill="#2962FF"/>
<path d="M414.4,438.9L416.0,437.3L417.6,438.9L416.0,440.5Z" fill="#2962FF"/>
<path d="M421.4,432.6L423.0,431.0L424.6,432.6L423.0,434.2Z" fill="#2962FF"/>
<path d="M428.4,428.0L430.0,426.4L431.6,428.0L430.0,429.6Z" fill="#2962FF"/>
<path d="M435.1,422.3L436.7,420.7L438.3,422.3L436.7,423.9Z" fill="#2962FF"/>
<path d="M442.4,417.9L444.0,416.3L445.6,417.9L444.0,419.5Z" fill="#2962FF"/>
<path d="M449.0,412.9L450.6,411.3L452.2,412.9L450.6,414.5Z" fill="#2962FF"/>
<path d="M456.5,408.5L458.1,406.9L459.7,408.5L458.1,410.1Z" fill="#2962FF"/>
<path d="M463.0,404.2L464.6,402.6L466.2,404.2L464.6,405.8Z" fill="#2962FF"/>
<path d="M470.2,298.7L471.8,297.1L473.4,298.7L471.8,300.3Z" fill="#2962FF"/>
<path d="M476.7,301.0L478.3,299.4L479.9,301.0L478.3,302.6Z" fill="#2962FF"/>
<path d="M484.0,303.0L485.6,301.4L487.2,303.0L485.6,304.6Z" fill="#2962FF"/>
<path d="M490.9,307.2L492.5,305.6L494.1,307.2L492.5,308.8Z" fill="#2962FF"/>
<path d="M497.9,313.5L499.5,311.9L501.1,313.5L499.5,315.1Z" fill="#2962FF"/>
<path d="M504.7,319.6L506.3,318.0L507.9,319.6L506.3,321.2Z" fill="#2962FF"/>
<path d="M511.9,327.4L513.5,325.8L515.1,327.4L513.5,329.0Z" fill="#2962FF"/>
<path d="M518.8,336.8L520.4,335.2L522.0,336.8L520.4,338.4Z" fill="#2962FF"/>
<path d="M525.9,345.4L527.5,343.8L529.1,345.4L527.5,347.0Z" fill="#2962FF"/>
<path d="M532.8,352.9L534.4,351.3L536.0,352.9L534.4,354.5Z" fill="#2962FF"/>
<path d="M539.7,359.7L541.3,358.1L542.9,359.7L541.3,361.3Z" fill="#2962FF"/>
<path d="M546.8,420.5L548.4,418.9L550.0,420.5L548.4,422.1Z" fill="#2962FF"/>
<path d="M553.7,419.6L555.3,418.0L556.9,419.6L555.3,421.2Z" fill="#2962FF"/>
<path d="M560.7,418.9L562.3,417.3L563.9,418.9L562.3,420.5Z" fill="#2962FF"/>
<path d="M567.8,416.4L569.4,414.8L571.0,416.4L569.4,418.0Z" fill="#2962FF"/>
<path d="M574.6,412.2L576.2,410.6L577.8,412.2L576.2,413.8Z" fill="#2962FF"/>
<path d="M581.7,405.6L583.3,404.0L584.9,405.6L583.3,407.2Z" fill="#2962FF"/>
<path d="M588.5,397.6L590.1,396.0L591.7,397.6L590.1,399.2Z" fill="#2962FF"/>
<path d="M595.4,390.4L597.0,388.8L598.6,390.4L597.0,392.0Z" fill="#2962FF"/>
<path d="M602.4,384.6L604.0,383.0L605.6,384.6L604.0,386.2Z" fill="#2962FF"/>
<path d="M609.4,327.3L611.0,325.7L612.6,327.3L611.0,328.9Z" fill="#2962FF"/>
<path d="M616.3,328.7L617.9,327.1L619.5,328.7L617.9,330.3Z" fill="#2962FF"/>
<path d="M623.0,330.2L624.6,328.6L626.2,330.2L624.6,331.8Z" fill="#2962FF"/>
<path d="M630.2,331.6L631.8,330.0L633.4,331.6L631.8,333.2Z" fill="#2962FF"/>
<path d="M637.1,332.8L638.7,331.2L640.3,332.8L638.7,334.4Z" fill="#2962FF"/>
<path d="M644.3,333.8L645.9,332.2L647.5,333.8L645.9,335.4Z" fill="#2962FF"/>
<path d="M651.1,334.8L652.7,333.2L654.3,334.8L652.7,336.4Z" fill="#2962FF"/>
<path d="M658.0,392.1L659.6,390.5L661.2,392.1L659.6,393.7Z" fill="#2962FF"/>
<path d="M664.8,391.4L666.4,389.8L668.0,391.4L666.4,393.0Z" fill="#2962FF"/>
<path d="M672.0,388.5L673.6,386.9L675.2,388.5L673.6,390.1Z" fill="#2962FF"/>
<path d="M678.9,385.6L680.5,384.0L682.1,385.6L680.5,387.2Z" fill="#2962FF"/>
<path d="M685.8,383.2L687.4,381.6L689.0,383.2L687.4,384.8Z" fill="#2962FF"/>
<path d="M692.9,380.6L694.5,379.0L696.1,380.6L694.5,382.2Z" fill="#2962FF"/>
<path d="M699.8,378.0L701.4,376.4L703.0,378.0L701.4,379.6Z" fill="#2962FF"/>
<path d="M706.8,322.2L708.4,320.6L710.0,322.2L708.4,323.8Z" fill="#2962FF"/>
<path d="M713.8,323.4L715.4,321.8L717.0,323.4L715.4,325.0Z" fill="#2962FF"/>
<path d="M720.8,325.6L722.4,324.0L724.0,325.6L722.4,327.2Z" fill="#2962FF"/>
<path d="M727.9,329.4L729.5,327.8L731.1,329.4L729.5,331.0Z" fill="#2962FF"/>
<path d="M734.7,332.5L736.3,330.9L737.9,332.5L736.3,334.1Z" fill="#2962FF"/>
<path d="M741.7,336.0L743.3,334.4L744.9,336.0L743.3,337.6Z" fill="#2962FF"/>
<path d="M748.5,340.7L750.1,339.1L751.7,340.7L750.1,342.3Z" fill="#2962FF"/>
<path d="M755.7,344.9L757.3,343.3L758.9,344.9L757.3,346.5Z" fill="#2962FF"/>
<path d="M762.7,348.7L764.3,347.1L765.9,348.7L764.3,350.3Z" fill="#2962FF"/>
<path d="M769.6,352.8L771.2,351.2L772.8,352.8L771.2,354.4Z" fill="#2962FF"/>
<path d="M776.5,356.4L778.1,354.8L779.7,356.4L778.1,358.0Z" fill="#2962FF"/>
<path d="M783.7,359.3L785.3,357.7L786.9,359.3L785.3,360.9Z" fill="#2962FF"/>
<path d="M790.6,363.3L792.2,361.7L793.8,363.3L792.2,364.9Z" fill="#2962FF"/>
<path d="M797.5,367.7L799.1,366.1L800.7,367.7L799.1,369.3Z" fill="#2962FF"/>
<path d="M804.3,372.9L805.9,371.3L807.5,372.9L805.9,374.5Z" fill="#2962FF"/>
<path d="M811.5,378.9L813.1,377.3L814.7,378.9L813.1,380.5Z" fill="#2962FF"/>
<path d="M818.4,385.4L820.0,383.8L821.6,385.4L820.0,387.0Z" fill="#2962FF"/>
<path d="M825.1,393.0L826.7,391.4L828.3,393.0L826.7,394.6Z" fill="#2962FF"/>
<path d="M832.4,400.5L834.0,398.9L835.6,400.5L834.0,402.1Z" fill="#2962FF"/>
<line x1="374.1" y1="421.4" x2="954.5" y2="421.4" stroke="#b5175a" stroke-width="1.6" stroke-dasharray="8.5,10.1"/>
<polyline points="186.2,524 869.2,367.3" fill="none" stroke="#673AB7" stroke-width="1.8" stroke-linecap="round"/>
<polyline points="401.7,297.2 869.2,364.7" fill="none" stroke="#673AB7" stroke-width="1.8" stroke-linecap="round"/>
</g>
<text x="962.6" y="614.7" class="ax" textLength="34.3" lengthAdjust="spacingAndGlyphs">−10.00</text>
<text x="962.6" y="576.5" class="ax" textLength="34.3" lengthAdjust="spacingAndGlyphs">0.0000</text>
<text x="962.6" y="538.3" class="ax" textLength="27.8" lengthAdjust="spacingAndGlyphs">10.00</text>
<text x="962.6" y="500.2" class="ax" textLength="27.8" lengthAdjust="spacingAndGlyphs">20.00</text>
<text x="962.6" y="462.0" class="ax" textLength="27.8" lengthAdjust="spacingAndGlyphs">30.00</text>
<text x="962.6" y="347.5" class="ax" textLength="27.8" lengthAdjust="spacingAndGlyphs">60.00</text>
<text x="962.6" y="309.4" class="ax" textLength="27.8" lengthAdjust="spacingAndGlyphs">70.00</text>
<text x="962.6" y="271.2" class="ax" textLength="27.8" lengthAdjust="spacingAndGlyphs">80.00</text>
<text x="962.6" y="233.0" class="ax" textLength="27.8" lengthAdjust="spacingAndGlyphs">90.00</text>
<text x="962.6" y="194.9" class="ax" textLength="34.0" lengthAdjust="spacingAndGlyphs">100.00</text>
<text x="962.6" y="156.7" class="ax" textLength="34.0" lengthAdjust="spacingAndGlyphs">110.00</text>
<text x="962.6" y="118.5" class="ax" textLength="34.0" lengthAdjust="spacingAndGlyphs">120.00</text>
<text x="962.6" y="80.4" class="ax" textLength="34.0" lengthAdjust="spacingAndGlyphs">130.00</text>
<text x="962.6" y="42.2" class="ax" textLength="34.0" lengthAdjust="spacingAndGlyphs">140.00</text>
<path d="M955.3,344.8 H993.5 Q995,344.8 995,346.3 V357.5 Q995,359.0 993.5,359.0 H955.3 Z" fill="#FF7F00"/><text x="963" y="355.7" class="ax" style="fill:#fff;stroke:#fff" textLength="27.5" lengthAdjust="spacingAndGlyphs">48.25</text>
<path d="M955.3,359.4 H993.5 Q995,359.4 995,360.9 V372.0 Q995,373.5 993.5,373.5 H955.3 Z" fill="#FF0000"/><text x="963" y="370.2" class="ax" style="fill:#fff;stroke:#fff" textLength="27.5" lengthAdjust="spacingAndGlyphs">46.45</text>
<path d="M955.3,374.1 H993.5 Q995,374.1 995,375.6 V386.1 Q995,387.6 993.5,387.6 H955.3 Z" fill="#2962FF"/><text x="963" y="384.7" class="ax" style="fill:#fff;stroke:#fff" textLength="27.5" lengthAdjust="spacingAndGlyphs">45.05</text>
<path d="M955.3,388.2 H993.5 Q995,388.2 995,389.7 V400.6 Q995,402.1 993.5,402.1 H955.3 Z" fill="#00FFFF"/><text x="963" y="398.9" class="ax" style="fill:#131722;stroke:#131722" textLength="27.5" lengthAdjust="spacingAndGlyphs">43.44</text>
<path d="M955.3,402.3 H1009.8 Q1011.3,402.3 1011.3,403.8 V426.8 Q1011.3,428.3 1009.8,428.3 H955.3 Z" fill="#F23645"/>
<text x="963" y="413.3" class="ax" style="fill:#fff;stroke:#fff" textLength="27.5" lengthAdjust="spacingAndGlyphs">42.76</text>
<text x="963" y="425.6" class="ax" style="fill:#fff;stroke:#fff" textLength="43" lengthAdjust="spacingAndGlyphs">02:54:06</text>
<path d="M955.3,435.2 H993.5 Q995,435.2 995,436.7 V448.0 Q995,449.5 993.5,449.5 H955.3 Z" fill="#0000FF"/><text x="963" y="446.2" class="ax" style="fill:#fff;stroke:#fff" textLength="27.5" lengthAdjust="spacingAndGlyphs">34.04</text>
<path d="M919.2,402.3 H954.1 V416.3 H919.2 Q917.7,416.3 917.7,414.8 V403.8 Q917.7,402.3 919.2,402.3 Z" fill="#F23645"/>
<text x="922.5" y="413.3" class="ax" style="fill:#fff;stroke:#fff" textLength="28.5" lengthAdjust="spacingAndGlyphs">BMNR</text>
<text x="44.5" y="635.9" class="tm" textLength="19" lengthAdjust="spacingAndGlyphs">Jun</text>
<text x="185.8" y="635.9" class="tm" textLength="15" lengthAdjust="spacingAndGlyphs">Jul</text>
<text x="336.7" y="635.9" class="tm" textLength="20" lengthAdjust="spacingAndGlyphs">Aug</text>
<text x="482.5" y="635.9" class="tm" textLength="20" lengthAdjust="spacingAndGlyphs">Sep</text>
<text x="629.0" y="635.9" class="tm" textLength="19" lengthAdjust="spacingAndGlyphs">Oct</text>
<text x="789.4" y="635.9" class="tm" textLength="20" lengthAdjust="spacingAndGlyphs">Nov</text>
<text x="921.4" y="635.9" class="tm" textLength="20" lengthAdjust="spacingAndGlyphs">Dec</text>
<text x="8.8" y="16.6" class="hd" textLength="345.9" lengthAdjust="spacingAndGlyphs">ChartAnalysis_4 created with TradingView.com, Nov 10, 2025 18:05 UTC</text>
<text x="15.5" y="39.8" class="lg" textLength="176.3" lengthAdjust="spacingAndGlyphs">BitMine Immersion Technologies, Inc.</text>
<text x="195.5" y="39.8" class="lg">·</text>
<text x="202" y="39.8" class="lg" textLength="11" lengthAdjust="spacingAndGlyphs">1D</text>
<text x="216" y="39.8" class="lg">·</text>
<text x="223" y="39.8" class="lg" textLength="49.6" lengthAdjust="spacingAndGlyphs">NYSE Arca</text>
<text x="279.6" y="39.8" class="lg" textLength="7.6" lengthAdjust="spacingAndGlyphs">O</text>
<text x="287.3" y="39.8" class="lg" style="fill:#F23645;stroke:#F23645" textLength="26" lengthAdjust="spacingAndGlyphs">43.41</text>
<text x="319.6" y="39.8" class="lg" textLength="7.4" lengthAdjust="spacingAndGlyphs">H</text>
<text x="327" y="39.8" class="lg" style="fill:#F23645;stroke:#F23645" textLength="25.6" lengthAdjust="spacingAndGlyphs">43.77</text>
<text x="359.5" y="39.8" class="lg" textLength="5.8" lengthAdjust="spacingAndGlyphs">L</text>
<text x="365.2" y="39.8" class="lg" style="fill:#F23645;stroke:#F23645" textLength="25.5" lengthAdjust="spacingAndGlyphs">41.47</text>
<text x="397" y="39.8" class="lg" textLength="7.6" lengthAdjust="spacingAndGlyphs">C</text>
<text x="404.8" y="39.8" class="lg" style="fill:#F23645;stroke:#F23645" textLength="25.8" lengthAdjust="spacingAndGlyphs">42.76</text>
<text x="437.2" y="39.8" class="lg" style="fill:#F23645;stroke:#F23645" textLength="74.1" lengthAdjust="spacingAndGlyphs">+2.53 (+6.29%)</text>
<text x="15.6" y="53.8" class="lg" textLength="94.6" lengthAdjust="spacingAndGlyphs">EMA 20/50/100/200</text>
<text x="116.7" y="53.8" class="lg" style="fill:#FF1A1A;stroke:#FF1A1A" textLength="27.3" lengthAdjust="spacingAndGlyphs">46.45</text>
<text x="150.6" y="53.8" class="lg" style="fill:#FF8A1F;stroke:#FF8A1F" textLength="27.1" lengthAdjust="spacingAndGlyphs">48.25</text>
<text x="183.7" y="53.8" class="lg" style="fill:#1FF5FF;stroke:#1FF5FF" textLength="27.3" lengthAdjust="spacingAndGlyphs">43.44</text>
<text x="217.9" y="53.8" class="lg" style="fill:#2424E8;stroke:#2424E8" textLength="27.1" lengthAdjust="spacingAndGlyphs">34.04</text>
<text x="15.6" y="68.5" class="lg" textLength="97.8" lengthAdjust="spacingAndGlyphs">SAR (0.02, 0.02, 0.2)</text>
<text x="120.2" y="68.5" class="lg" style="fill:#3B6FF5;stroke:#3B6FF5" textLength="27" lengthAdjust="spacingAndGlyphs">45.05</text>
<circle cx="46.9" cy="609.1" r="8.1" fill="#fff" stroke="#FF9F1C" stroke-width="1.5"/>
<text x="46.9" y="612.8" text-anchor="middle" font-size="10.5" font-weight="bold" fill="#FF9F1C" stroke="#FF9F1C" stroke-width="0.5">S</text>
<path d="M193,604.6 L200.3,600.6 L207.5,604.6 V615.3 Q207.5,616.3 206.5,616.3 H194 Q193,616.3 193,615.3 Z" fill="#fff" stroke="#26A58B" stroke-width="1.5" stroke-linejoin="round"/>
<path d="M198,605.3 H202.8 V606.8 H199.6 V608.2 H202.3 V609.6 H199.6 V611.1 H202.8 V612.6 H198 Z" fill="#26A58B"/>
<path d="M836.9,600.9 A8.1,8.1 0 1 0 842.0,608.0" fill="#fff" stroke="#9C27B0" stroke-width="1.5"/>
<circle cx="839.6" cy="603.3" r="2.3" fill="#F23645"/>
<path d="M836,605.2 L831.2,609.3 H836.6 L831.8,613.3" fill="none" stroke="#9C27B0" stroke-width="1.6" stroke-linejoin="round" stroke-linecap="round"/>
<path d="M10.1,662 H20 V674.5 H15.2 V666.7 H10.1 Z" fill="#131313"/>
<circle cx="24.4" cy="664.4" r="2.3" fill="#131313"/>
<path d="M30,662 H35.1 L30.4,674.5 H24.9 Z" fill="#131313"/>
<text x="41.8" y="674.5" font-size="17" fill="#131313" stroke="#131313" stroke-width="0.75" textLength="100.8" lengthAdjust="spacingAndGlyphs">TradingView</text>
</svg>
</body></html>
